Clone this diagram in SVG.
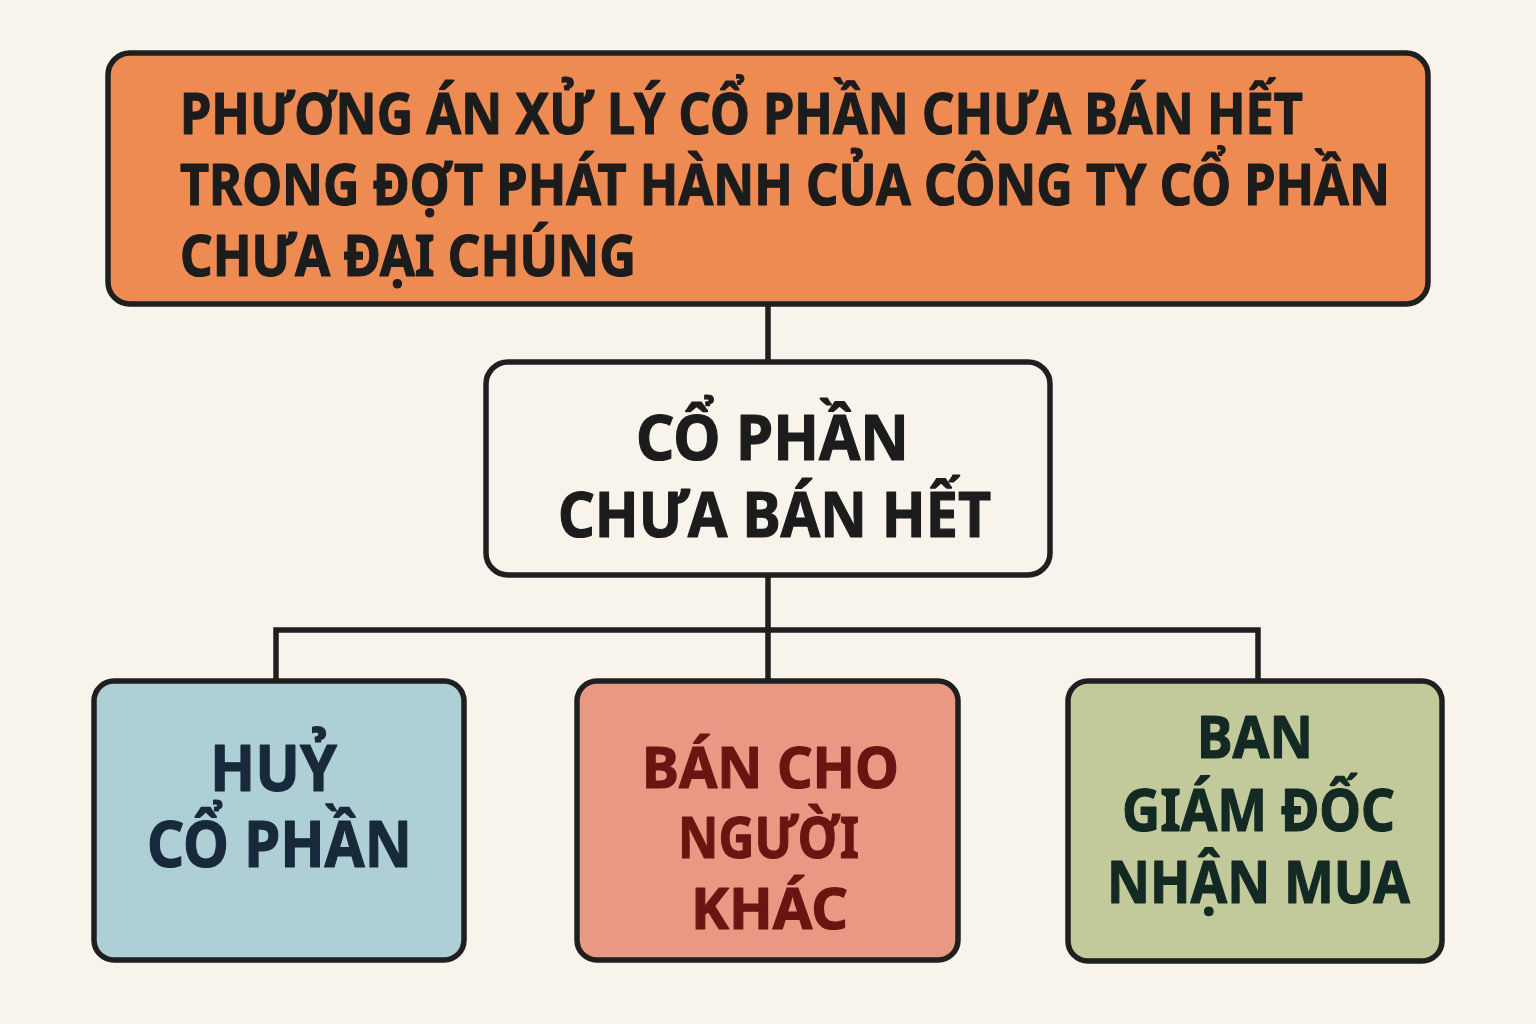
<svg xmlns="http://www.w3.org/2000/svg" width="1536" height="1024" viewBox="0 0 1536 1024">
<style>
.box{stroke:#1f1f1f;stroke-width:5.5}
.t{font-family:"Noto Sans","Open Sans","Liberation Sans",sans-serif;font-weight:700;stroke-width:1.2;stroke-linejoin:round}
.conn{fill:none;stroke:#1f1f1f;stroke-width:5.5}
</style>
<rect x="0" y="0" width="1536" height="1024" fill="#F8F4EC"/>
<g id="connectors">
<path class="conn" d="M768,304 V362"/>
<path class="conn" d="M768,575 V681"/>
<path class="conn" d="M276,681 V630 H1258 V681"/>
</g>
<g id="n-top">
<rect class="box" x="108" y="53" width="1320" height="251" rx="22" fill="#EE8B52"/>
<g class="t" font-size="57" fill="#1c1c1c" stroke="#1c1c1c">
<text x="180" y="134" textLength="1123" lengthAdjust="spacingAndGlyphs">PHƯƠNG ÁN XỬ LÝ CỔ PHẦN CHƯA BÁN HẾT</text>
<text x="180" y="205" textLength="1210" lengthAdjust="spacingAndGlyphs">TRONG ĐỢT PHÁT HÀNH CỦA CÔNG TY CỔ PHẦN</text>
<text x="180" y="276" textLength="456" lengthAdjust="spacingAndGlyphs">CHƯA ĐẠI CHÚNG</text>
</g>
</g>
<g id="n-mid">
<rect class="box" x="486" y="362" width="564" height="213" rx="22" fill="#F8F4EC"/>
<g class="t" font-size="63" fill="#1c1c1c" stroke="#1c1c1c">
<text x="636" y="460" textLength="273" lengthAdjust="spacingAndGlyphs">CỔ PHẦN</text>
<text x="558" y="537" textLength="433" lengthAdjust="spacingAndGlyphs">CHƯA BÁN HẾT</text>
</g>
</g>
<g id="n-huy">
<rect class="box" x="94" y="681" width="370" height="279" rx="20" fill="#AECFD6"/>
<g class="t" font-size="64" fill="#17293b" stroke="#17293b">
<text x="210" y="791" textLength="127" lengthAdjust="spacingAndGlyphs">HUỶ</text>
<text x="147" y="867" textLength="265" lengthAdjust="spacingAndGlyphs">CỔ PHẦN</text>
</g>
</g>
<g id="n-ban">
<rect class="box" x="577" y="681" width="381" height="279" rx="20" fill="#E89883"/>
<g class="t" font-size="58" fill="#6b1512" stroke="#6b1512">
<text x="642" y="788" textLength="257" lengthAdjust="spacingAndGlyphs">BÁN CHO</text>
<text x="678" y="858" textLength="181" lengthAdjust="spacingAndGlyphs">NGƯỜI</text>
<text x="691" y="929" textLength="157" lengthAdjust="spacingAndGlyphs">KHÁC</text>
</g>
</g>
<g id="n-bgd">
<rect class="box" x="1068" y="681" width="374" height="280" rx="20" fill="#C2C99B"/>
<g class="t" font-size="60" fill="#132a24" stroke="#132a24">
<text x="1197" y="758" textLength="116" lengthAdjust="spacingAndGlyphs">BAN</text>
<text x="1122" y="831" textLength="273" lengthAdjust="spacingAndGlyphs">GIÁM ĐỐC</text>
<text x="1107" y="903" textLength="303" lengthAdjust="spacingAndGlyphs">NHẬN MUA</text>
</g>
</g>
</svg>
